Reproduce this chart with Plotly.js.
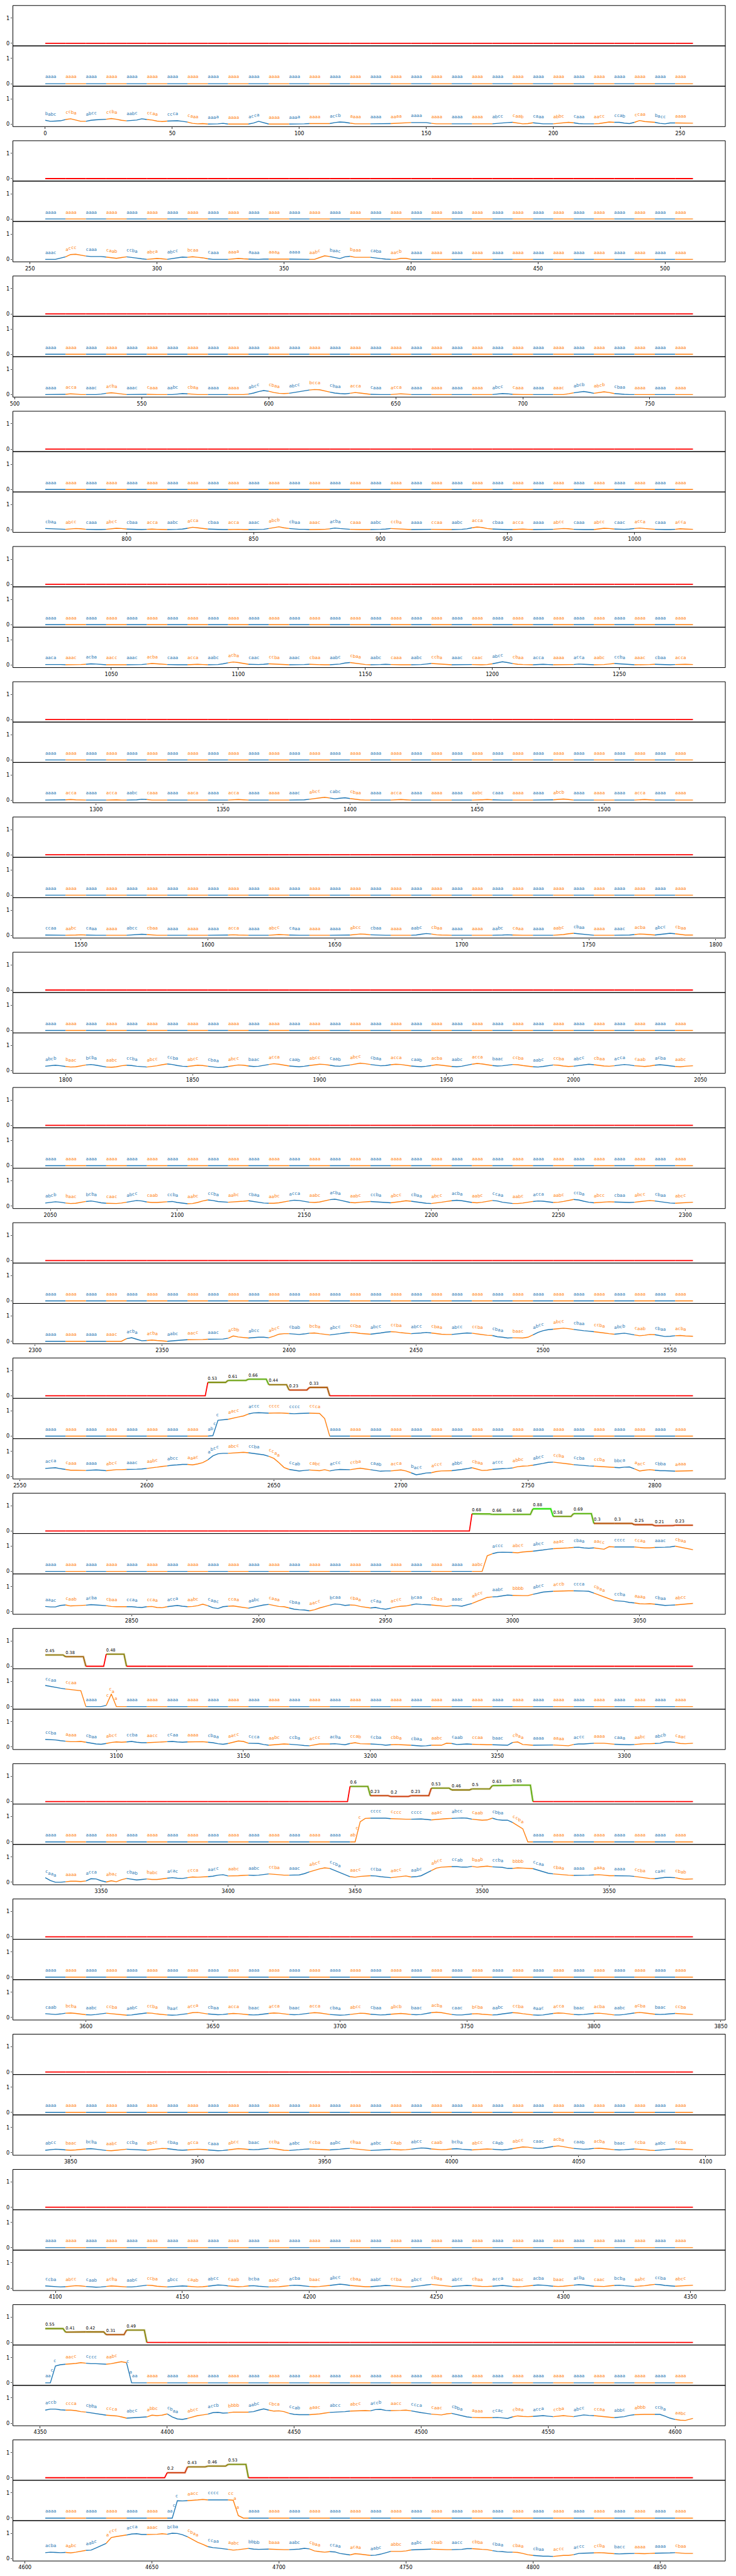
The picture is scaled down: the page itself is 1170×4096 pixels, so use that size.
<!DOCTYPE html>
<html><head><meta charset="utf-8">
<script src="https://cdn.plot.ly/plotly-3.0.1.min.js"></script>
<style>body{margin:0;background:#fff}#chart{width:1170px;height:4096px}</style>
</head><body><div id="chart"></div>
<script>
// ---------------- DATA ----------------
// score per 8-point window (top row); sparse: first window index and values
const scoreFirst = [-1,-1,-1,-1,-1,-1,-1,-1,-1,-1,8,21,0,15,-1,-1,-1,0,6];
const scoreList = [[],[],[],[],[],[],[],[],[],[],
  [0.53,0.61,0.66,0.44,0.23,0.33],
  [0.68,0.66,0.66,0.88,0.58,0.69,0.3,0.3,0.25,0.21,0.23],
  [0.45,0.38,0,0.48],
  [0.6,0.23,0.2,0.23,0.53,0.46,0.5,0.63,0.65],
  [],[],[],
  [0.55,0.41,0.42,0.31,0.49],
  [0.2,0.43,0.46,0.53]];
// middle signal (every 2 samples), zero outside the listed stretch
const midStartIdx = [-1,-1,-1,-1,-1,-1,-1,-1,-1,-1,33,87,0,62,-1,-1,-1,0,26];
const midActive = [[],[],[],[],[],[],[],[],[],[],
  [0.02,0.63,0.65,0.67,0.72,0.76,0.8,0.88,0.92,0.93,0.92,0.91,0.92,0.92,0.91,0.9,0.89,0.9,0.91,0.91,0.91,0.9,0.7],
  [0.62,0.7,0.75,0.76,0.76,0.75,0.74,0.77,0.79,0.8,0.82,0.85,0.88,0.9,0.91,0.91,0.93,0.95,0.96,0.93,0.92,0.93,0.91,0.88,0.98,0.97,0.97,0.97,0.97,0.97,0.95,0.93,0.93,0.95,0.95,0.96,0.97,1.0,0.96,0.91,0.86],
  [0.84,0.8,0.76,0.73,0.7,0.68,0.66,0.63,0,0,0,0,0.05,0.5],
  [0.8,0.93,0.94,0.94,0.95,0.94,0.92,0.91,0.9,0.9,0.9,0.91,0.91,0.89,0.87,0.89,0.91,0.92,0.93,0.94,0.95,0.94,0.9,0.88,0.86,0.87,0.94,0.88,0.86,0.86,0.77,0.64,0.52],
  [],[],[],
  [0,0,0.67,0.72,0.74,0.75,0.77,0.8,0.78,0.76,0.76,0.75,0.74,0.76,0.8,0.84,0.8],
  [0.69,0.68,0.69,0.7,0.72,0.74,0.72,0.72,0.72,0.72,0.72,0.71,0.1]];
// middle-row words: "aaaa" except a stretch starting at window midWordFirst
const midWordFirst = [-1,-1,-1,-1,-1,-1,-1,-1,-1,-1,8,21,0,15,-1,-1,-1,0,6];
const midWordList = ["","","","","","","","","","",
  "abcc aacc accc cccc cccc ccca",
  "aabc accc abcc abcc aaac cbaa aacc cccc ccaa aaac cbaa",
  "ccaa ccaa aaaa ccaa",
  "abcc cccc cccc cccc aaac abcc caab cbba ccba",
  "","","",
  "aacc aacc cccc aabc caaa",
  "aacc aacc cccc ccaa"];
// bottom signal (every 2 samples, 128 per panel)
const botSig = [
 [0.15,0.11,0.12,0.13,0.18,0.21,0.16,0.11,0.11,0.15,0.17,0.18,0.19,0.22,0.19,0.15,
  0.13,0.15,0.16,0.21,0.18,0.16,0.12,0.10,0.12,0.13,0.13,0.11,0.08,0.03,0.01,0.02,
  0,0,0.01,0.03,0,0,0,0,0,0.04,0.11,0.05,0,0,0,0,
  0,0,0.01,0.01,0.02,0.02,0.02,0.01,0.02,0.06,0.08,0.07,0.04,0.01,0.01,0.01,
  0.01,0.01,0.01,0.02,0.02,0.03,0.04,0.05,0.06,0.06,0.06,0.06,0.03,0.01,0.01,0.01,
  0.01,0.01,0.01,0.01,0.01,0.01,0.01,0.01,0.01,0.03,0.05,0.06,0.07,0.04,0.01,0.02,
  0.05,0.03,0.01,0.01,0.01,0.03,0.05,0.07,0.05,0.02,0.01,0.01,0.01,0.02,0.05,0.08,
  0.07,0.07,0.04,0.02,0.07,0.14,0.1,0.08,0.07,0.03,0.01,0.045,0.045,0.045,0.04,0.035],
 [0,0,0,0.05,0.1,0.19,0.2,0.16,0.13,0.11,0.11,0.11,0.09,0.06,0.04,0.07,
  0.1,0.08,0.05,0.02,0,0.02,0.035,0.02,0,0.03,0.07,0.09,0.08,0.1,0.08,0.06,
  0.02,0,0,0,0,0.02,0.035,0.02,0.01,0,0,0.01,0.01,0.01,0,0,
  0.01,0.01,0.01,0,0,0,0.07,0.14,0.11,0.07,0.03,0.1,0.12,0.08,0.08,0.08,
  0.08,0.05,0.03,0.01,0,0,0.04,0.04,0,0,0,0,0,0,0,0,
  0,0,0,0,0,0,0,0,0,0,0,0,0,0,0,0,
  0,0,0,0,0,0,0,0,0,0,0,0,0,0,0,0,
  0,0,0,0,0,0,0,0,0,0,0,0,0,0,0,0],
 [0,0,0,0,0.01,0.03,0.02,0,0,0,0,0.02,0.05,0.07,0.05,0.02,
  0,0,0,0.01,0.01,0,0,0,0,0,0.02,0.04,0.03,0.01,0,0,
  0,0,0,0,0,0,0,0,0.02,0.06,0.12,0.16,0.13,0.08,0.05,0.04,
  0.05,0.08,0.12,0.15,0.18,0.2,0.19,0.15,0.1,0.06,0.04,0.03,0.05,0.08,0.06,0.03,
  0.01,0,0,0,0,0.02,0.03,0.02,0,0,0,0,0,0,0,0,
  0,0,0,0,0,0,0,0,0,0.02,0.04,0.03,0.01,0,0,0,
  0,0,0,0,0,0,0,0.03,0.07,0.1,0.12,0.09,0.05,0.08,0.11,0.08,
  0.04,0.02,0.01,0,0,0,0,0,0,0,0,0,0,0,0,0],
 [0.05,0.04,0.03,0.02,0.02,0.03,0.05,0.04,0.02,0.01,0.01,0.01,0.02,0.04,0.06,0.05,
  0.03,0.02,0.01,0.01,0.02,0.03,0.02,0.01,0.01,0.01,0.02,0.03,0.06,0.1,0.08,0.05,
  0.03,0.02,0.01,0.01,0.01,0.02,0.02,0.01,0.01,0.01,0.01,0.02,0.05,0.09,0.12,0.08,
  0.05,0.03,0.02,0.02,0.01,0.01,0.01,0.02,0.04,0.07,0.05,0.03,0.02,0.01,0.01,0.01,
  0.01,0.01,0.02,0.03,0.05,0.04,0.02,0.01,0.01,0.01,0.01,0.01,0.02,0.02,0.01,0.01,
  0.01,0.01,0.02,0.04,0.08,0.11,0.09,0.05,0.03,0.02,0.01,0.01,0.01,0.02,0.03,0.02,
  0.01,0.01,0.01,0.01,0.02,0.03,0.05,0.04,0.02,0.01,0.01,0.01,0.01,0.03,0.06,0.05,
  0.03,0.02,0.02,0.03,0.05,0.07,0.05,0.03,0.02,0.01,0.01,0.01,0.02,0.04,0.03,0.02],
 [0.02,0.02,0.03,0.02,0.01,0.01,0.01,0.02,0.03,0.05,0.04,0.02,0.01,0.01,0.02,0.02,
  0.01,0.01,0.01,0.02,0.04,0.06,0.05,0.03,0.02,0.01,0.01,0.01,0.01,0.02,0.03,0.02,
  0.01,0.01,0.02,0.05,0.09,0.12,0.1,0.06,0.03,0.02,0.02,0.03,0.05,0.04,0.02,0.01,
  0.01,0.01,0.01,0.02,0.03,0.02,0.01,0.01,0.01,0.02,0.04,0.08,0.1,0.07,0.04,0.02,
  0.01,0.01,0.02,0.03,0.02,0.01,0.01,0.01,0.01,0.01,0.02,0.04,0.06,0.05,0.03,0.02,
  0.01,0.01,0.01,0.02,0.02,0.01,0.01,0.02,0.05,0.09,0.13,0.1,0.06,0.03,0.02,0.01,
  0.01,0.02,0.03,0.02,0.01,0.01,0.01,0.01,0.02,0.04,0.03,0.02,0.01,0.01,0.02,0.04,
  0.06,0.05,0.03,0.02,0.01,0.01,0.01,0.02,0.03,0.02,0.01,0.01,0.02,0.03,0.03,0.02],
 [0.01,0.01,0.01,0.01,0.02,0.03,0.02,0.01,0.01,0.01,0.01,0.01,0.01,0.02,0.02,0.01,
  0.01,0.01,0.02,0.04,0.03,0.01,0.01,0.01,0.01,0.01,0.01,0.01,0.01,0.01,0.02,0.01,
  0.01,0.01,0.01,0.01,0.01,0.02,0.03,0.02,0.01,0.01,0.01,0.01,0.01,0.01,0.01,0.01,
  0.01,0.01,0.01,0.02,0.04,0.07,0.1,0.12,0.09,0.06,0.08,0.1,0.07,0.04,0.02,0.01,
  0.01,0.01,0.01,0.01,0.01,0.02,0.03,0.02,0.01,0.01,0.01,0.01,0.01,0.01,0.01,0.01,
  0.01,0.01,0.01,0.01,0.01,0.01,0.02,0.03,0.02,0.01,0.01,0.01,0.01,0.01,0.01,0.01,
  0.01,0.01,0.01,0.01,0.02,0.04,0.05,0.03,0.01,0.01,0.01,0.01,0.01,0.01,0.01,0.01,
  0.01,0.01,0.01,0.01,0.01,0.02,0.03,0.02,0.01,0.01,0.01,0.01,0.01,0.01,0.01,0.01],
 [0.02,0.02,0.01,0.01,0.01,0.01,0.02,0.03,0.02,0.01,0.01,0.01,0.01,0.01,0.01,0.01,
  0.01,0.02,0.03,0.05,0.04,0.02,0.01,0.01,0.01,0.01,0.01,0.01,0.01,0.01,0.01,0.01,
  0.01,0.01,0.01,0.01,0.02,0.03,0.02,0.01,0.01,0.01,0.01,0.01,0.01,0.02,0.04,0.03,
  0.02,0.01,0.01,0.01,0.01,0.01,0.01,0.01,0.01,0.01,0.01,0.01,0.02,0.04,0.06,0.05,
  0.03,0.02,0.01,0.01,0.01,0.01,0.01,0.01,0.01,0.02,0.05,0.08,0.06,0.03,0.02,0.01,
  0.01,0.01,0.01,0.01,0.01,0.01,0.01,0.01,0.01,0.01,0.02,0.03,0.02,0.01,0.01,0.01,
  0.01,0.01,0.01,0.01,0.01,0.02,0.04,0.07,0.09,0.07,0.04,0.02,0.01,0.01,0.01,0.01,
  0.01,0.01,0.01,0.02,0.04,0.06,0.05,0.03,0.02,0.04,0.07,0.09,0.07,0.04,0.02,0.02],
 [0.18,0.2,0.22,0.2,0.17,0.15,0.16,0.19,0.23,0.25,0.22,0.18,0.15,0.14,0.16,0.2,
  0.22,0.21,0.18,0.16,0.15,0.17,0.2,0.24,0.27,0.25,0.21,0.18,0.17,0.19,0.22,0.21,
  0.18,0.15,0.13,0.14,0.17,0.2,0.23,0.22,0.19,0.17,0.18,0.21,0.25,0.28,0.26,0.22,
  0.19,0.17,0.16,0.18,0.21,0.24,0.26,0.25,0.22,0.19,0.18,0.2,0.23,0.27,0.3,0.28,
  0.25,0.22,0.2,0.21,0.24,0.26,0.25,0.22,0.19,0.17,0.16,0.18,0.21,0.24,0.22,0.19,
  0.17,0.16,0.18,0.22,0.26,0.29,0.27,0.24,0.21,0.19,0.2,0.23,0.25,0.24,0.21,0.18,
  0.16,0.15,0.17,0.2,0.23,0.22,0.19,0.17,0.18,0.21,0.24,0.26,0.24,0.21,0.19,0.18,
  0.2,0.23,0.25,0.23,0.2,0.18,0.17,0.19,0.22,0.24,0.22,0.19,0.17,0.16,0.18,0.2],
 [0.12,0.14,0.17,0.15,0.12,0.1,0.11,0.14,0.18,0.2,0.17,0.13,0.11,0.1,0.1,0.12,
  0.15,0.19,0.22,0.2,0.16,0.14,0.14,0.15,0.17,0.18,0.14,0.11,0.09,0.1,0.14,0.2,
  0.24,0.22,0.18,0.16,0.15,0.16,0.17,0.19,0.21,0.18,0.14,0.12,0.11,0.11,0.13,0.16,
  0.2,0.23,0.22,0.18,0.15,0.14,0.16,0.2,0.25,0.27,0.23,0.18,0.14,0.13,0.15,0.17,
  0.18,0.17,0.15,0.14,0.13,0.15,0.18,0.21,0.19,0.16,0.13,0.11,0.1,0.12,0.15,0.18,
  0.21,0.23,0.21,0.17,0.14,0.13,0.15,0.19,0.22,0.2,0.15,0.12,0.1,0.1,0.12,0.15,
  0.18,0.2,0.19,0.16,0.14,0.15,0.18,0.22,0.26,0.24,0.19,0.15,0.13,0.14,0.16,0.17,
  0.16,0.15,0.14,0.14,0.15,0.17,0.2,0.22,0.2,0.17,0.14,0.12,0.11,0.12,0.14,0.15],
 [0,0,0,0,0,0,0,0,0,0,0,0,0,0,0,0,
  0.1,0.14,0.08,0.02,0.03,0.05,0.03,0.01,0,0.02,0.03,0.05,0.06,0.06,0.07,0.07,
  0.08,0.08,0.08,0.09,0.12,0.21,0.17,0.15,0.13,0.15,0.16,0.16,0.14,0.2,0.28,0.3,
  0.3,0.28,0.27,0.29,0.32,0.33,0.3,0.27,0.25,0.27,0.3,0.33,0.35,0.34,0.31,0.29,
  0.28,0.3,0.33,0.36,0.38,0.37,0.34,0.32,0.3,0.31,0.33,0.35,0.33,0.3,0.28,0.27,
  0.27,0.29,0.31,0.33,0.32,0.29,0.26,0.24,0.23,0.18,0.16,0.13,0.14,0.13,0.13,0.16,
  0.25,0.35,0.42,0.46,0.48,0.5,0.52,0.5,0.47,0.44,0.42,0.4,0.38,0.36,0.33,0.3,
  0.28,0.3,0.32,0.29,0.25,0.22,0.24,0.27,0.26,0.22,0.19,0.2,0.22,0.23,0.21,0.2],
 [0.32,0.34,0.35,0.31,0.28,0.25,0.25,0.24,0.24,0.25,0.26,0.25,0.23,0.25,0.27,0.27,
  0.28,0.28,0.29,0.3,0.32,0.34,0.37,0.4,0.42,0.45,0.46,0.48,0.48,0.46,0.5,0.55,
  0.66,0.82,0.9,0.92,0.92,0.93,0.94,0.96,0.94,0.91,0.89,0.86,0.8,0.72,0.55,0.36,
  0.28,0.25,0.22,0.24,0.26,0.24,0.23,0.27,0.22,0.26,0.28,0.28,0.27,0.3,0.33,0.3,
  0.27,0.24,0.21,0.22,0.22,0.24,0.26,0.22,0.15,0.07,0.1,0.14,0.15,0.2,0.22,0.22,
  0.23,0.25,0.28,0.31,0.35,0.3,0.24,0.25,0.28,0.3,0.31,0.32,0.34,0.39,0.41,0.42,
  0.45,0.48,0.52,0.56,0.57,0.55,0.53,0.5,0.47,0.45,0.44,0.42,0.41,0.4,0.38,0.37,
  0.36,0.35,0.37,0.38,0.3,0.22,0.25,0.27,0.25,0.23,0.23,0.22,0.21,0.22,0.23,0.23],
 [0.21,0.19,0.19,0.25,0.27,0.23,0.24,0.25,0.26,0.28,0.27,0.25,0.24,0.21,0.2,0.2,
  0.2,0.2,0.18,0.17,0.2,0.21,0.17,0.16,0.2,0.23,0.25,0.22,0.2,0.21,0.24,0.3,
  0.24,0.16,0.13,0.2,0.22,0.23,0.2,0.17,0.14,0.18,0.22,0.27,0.29,0.25,0.21,0.2,
  0.15,0.1,0.08,0.07,0.04,0.08,0.15,0.21,0.26,0.31,0.29,0.25,0.27,0.26,0.21,0.18,
  0.15,0.17,0.13,0.1,0.14,0.19,0.22,0.23,0.27,0.31,0.29,0.28,0.27,0.25,0.22,0.21,
  0.24,0.24,0.22,0.27,0.33,0.41,0.5,0.57,0.59,0.6,0.63,0.66,0.65,0.64,0.64,0.64,
  0.69,0.73,0.78,0.8,0.81,0.82,0.83,0.83,0.83,0.83,0.82,0.81,0.74,0.66,0.58,0.51,
  0.44,0.42,0.41,0.37,0.35,0.32,0.31,0.32,0.3,0.27,0.25,0.26,0.27,0.29,0.31,0.33],
 [0.3,0.29,0.28,0.25,0.23,0.21,0.21,0.22,0.19,0.15,0.12,0.11,0.14,0.18,0.2,0.19,
  0.2,0.22,0.19,0.17,0.17,0.18,0.19,0.2,0.21,0.22,0.2,0.19,0.2,0.2,0.21,0.21,
  0.19,0.17,0.13,0.11,0.14,0.19,0.24,0.22,0.15,0.14,0.14,0.1,0.07,0.09,0.11,0.12,
  0.11,0.1,0.08,0.06,0.05,0.09,0.12,0.12,0.12,0.13,0.11,0.09,0.14,0.17,0.13,0.12,
  0.12,0.11,0.1,0.07,0.09,0.1,0.09,0.08,0.07,0.05,0.04,0.05,0.07,0.07,0.07,0.15,
  0.14,0.1,0.11,0.12,0.11,0.1,0.1,0.09,0.09,0.08,0.08,0.07,0.18,0.2,0.1,0.08,
  0.07,0.07,0.08,0.08,0.08,0.07,0.06,0.05,0.1,0.12,0.12,0.14,0.15,0.15,0.15,0.13,
  0.11,0.1,0.09,0.09,0.1,0.12,0.13,0.13,0.14,0.15,0.2,0.2,0.18,0.14,0.13,0.15],
 [0.18,0.07,0,0,0.02,0.04,0.04,0.03,0.05,0.14,0.13,0.06,0.01,0.06,0.02,0.1,
  0.15,0.12,0.09,0.11,0.13,0.11,0.11,0.14,0.16,0.18,0.16,0.15,0.18,0.21,0.2,0.21,
  0.22,0.24,0.28,0.3,0.25,0.25,0.26,0.27,0.28,0.27,0.28,0.31,0.33,0.32,0.3,0.28,
  0.28,0.29,0.29,0.34,0.41,0.47,0.53,0.57,0.55,0.47,0.38,0.3,0.22,0.2,0.23,0.25,
  0.26,0.25,0.22,0.2,0.18,0.2,0.23,0.25,0.21,0.22,0.26,0.36,0.46,0.56,0.6,0.61,
  0.62,0.62,0.6,0.6,0.63,0.6,0.62,0.64,0.61,0.6,0.59,0.55,0.55,0.57,0.56,0.55,
  0.54,0.48,0.41,0.36,0.33,0.31,0.29,0.28,0.27,0.27,0.27,0.28,0.29,0.3,0.28,0.26,
  0.26,0.26,0.25,0.25,0.23,0.2,0.17,0.15,0.14,0.16,0.19,0.19,0.18,0.14,0.12,0.13],
 [0.15,0.13,0.12,0.14,0.17,0.18,0.16,0.13,0.11,0.1,0.12,0.15,0.17,0.15,0.12,0.1,
  0.09,0.1,0.13,0.16,0.18,0.17,0.14,0.12,0.1,0.09,0.1,0.12,0.15,0.19,0.2,0.17,
  0.14,0.12,0.11,0.12,0.14,0.16,0.15,0.13,0.11,0.1,0.11,0.13,0.16,0.18,0.17,0.14,
  0.12,0.11,0.12,0.14,0.17,0.19,0.18,0.15,0.12,0.1,0.09,0.1,0.12,0.15,0.17,0.16,
  0.13,0.11,0.1,0.11,0.13,0.15,0.16,0.14,0.12,0.11,0.12,0.15,0.19,0.21,0.19,0.15,
  0.12,0.1,0.1,0.12,0.14,0.15,0.13,0.11,0.1,0.11,0.14,0.17,0.19,0.18,0.15,0.12,
  0.1,0.09,0.1,0.13,0.16,0.18,0.17,0.14,0.12,0.11,0.12,0.14,0.16,0.17,0.15,0.12,
  0.1,0.1,0.12,0.15,0.18,0.2,0.18,0.15,0.13,0.12,0.13,0.15,0.16,0.15,0.13,0.12],
 [0.1,0.12,0.14,0.13,0.11,0.1,0.11,0.13,0.15,0.16,0.14,0.11,0.09,0.08,0.1,0.12,
  0.14,0.13,0.11,0.1,0.1,0.12,0.15,0.17,0.16,0.13,0.11,0.1,0.11,0.13,0.14,0.13,
  0.11,0.09,0.08,0.09,0.11,0.14,0.16,0.15,0.13,0.12,0.13,0.15,0.17,0.16,0.13,0.1,
  0.09,0.1,0.12,0.14,0.15,0.14,0.12,0.11,0.11,0.12,0.14,0.16,0.17,0.15,0.12,0.1,
  0.09,0.1,0.12,0.13,0.13,0.12,0.11,0.12,0.14,0.17,0.19,0.18,0.15,0.13,0.12,0.13,
  0.15,0.16,0.14,0.12,0.11,0.12,0.14,0.15,0.14,0.12,0.11,0.13,0.16,0.2,0.23,0.22,
  0.19,0.17,0.18,0.21,0.25,0.27,0.24,0.2,0.17,0.15,0.14,0.15,0.17,0.18,0.16,0.14,
  0.12,0.11,0.12,0.14,0.15,0.14,0.12,0.1,0.09,0.1,0.12,0.14,0.15,0.14,0.13,0.12],
 [0.08,0.07,0.05,0.04,0.05,0.07,0.09,0.08,0.06,0.04,0.03,0.04,0.06,0.08,0.07,0.05,
  0.04,0.04,0.06,0.09,0.11,0.1,0.07,0.05,0.04,0.05,0.07,0.08,0.07,0.05,0.04,0.05,
  0.07,0.1,0.12,0.11,0.08,0.06,0.05,0.06,0.08,0.09,0.07,0.05,0.04,0.04,0.05,0.07,
  0.09,0.11,0.1,0.08,0.06,0.05,0.06,0.08,0.1,0.13,0.15,0.13,0.1,0.08,0.06,0.05,
  0.05,0.06,0.08,0.1,0.09,0.07,0.05,0.04,0.04,0.06,0.09,0.12,0.14,0.12,0.09,0.07,
  0.06,0.07,0.09,0.1,0.09,0.07,0.06,0.06,0.07,0.09,0.1,0.08,0.06,0.05,0.06,0.08,
  0.1,0.12,0.11,0.09,0.07,0.06,0.07,0.09,0.11,0.13,0.12,0.09,0.07,0.06,0.06,0.08,
  0.1,0.11,0.09,0.07,0.06,0.07,0.09,0.12,0.14,0.13,0.1,0.08,0.07,0.08,0.1,0.11],
 [0.52,0.56,0.56,0.53,0.52,0.52,0.5,0.46,0.44,0.41,0.38,0.35,0.32,0.3,0.29,0.25,
  0.2,0.21,0.23,0.23,0.25,0.32,0.3,0.32,0.37,0.25,0.17,0.15,0.19,0.24,0.3,0.33,
  0.36,0.42,0.43,0.4,0.41,0.44,0.44,0.44,0.44,0.46,0.52,0.57,0.52,0.48,0.49,0.46,
  0.39,0.35,0.34,0.34,0.34,0.35,0.37,0.4,0.43,0.44,0.44,0.46,0.48,0.49,0.5,0.5,
  0.49,0.54,0.55,0.51,0.5,0.5,0.51,0.52,0.49,0.45,0.42,0.39,0.36,0.34,0.33,0.37,
  0.39,0.34,0.29,0.25,0.23,0.22,0.22,0.22,0.22,0.23,0.21,0.19,0.25,0.29,0.27,0.26,
  0.27,0.28,0.3,0.28,0.26,0.28,0.3,0.28,0.26,0.3,0.33,0.31,0.3,0.28,0.26,0.24,
  0.22,0.24,0.26,0.31,0.34,0.35,0.35,0.35,0.35,0.35,0.28,0.2,0.15,0.12,0.11,0.19],
 [0.23,0.25,0.24,0.23,0.24,0.22,0.25,0.29,0.32,0.33,0.42,0.51,0.6,0.83,0.87,0.9,
  0.93,0.97,0.98,0.95,0.95,0.95,0.96,0.98,0.96,1.0,0.99,0.94,0.86,0.74,0.64,0.56,
  0.47,0.43,0.41,0.38,0.36,0.33,0.35,0.38,0.4,0.37,0.36,0.37,0.37,0.36,0.35,0.35,
  0.35,0.36,0.37,0.4,0.38,0.3,0.27,0.25,0.27,0.26,0.2,0.17,0.14,0.19,0.17,0.14,
  0.12,0.13,0.17,0.22,0.28,0.28,0.28,0.3,0.34,0.35,0.36,0.36,0.37,0.36,0.35,0.35,
  0.35,0.35,0.36,0.39,0.39,0.37,0.36,0.35,0.31,0.28,0.27,0.25,0.25,0.24,0.2,0.15,
  0.12,0.1,0.09,0.09,0.08,0.1,0.12,0.12,0.15,0.2,0.21,0.22,0.22,0.23,0.22,0.2,
  0.19,0.18,0.19,0.2,0.2,0.19,0.19,0.2,0.21,0.21,0.21,0.22,0.23,0.21,0.2,0.2]
];
const botWords = [
 "babc ccba abcc ccba aabc ccaa ccca caaa aaaa aaaa acca aaaa aaaa aaaa accb aaaa aaaa aaaa aaaa aaaa aaaa aaaa abcc caab caaa abbc caaa aacc ccab ccaa bacc aaaa",
 "aaac accc caaa caab ccba abca abcc bcaa caaa aaaa aaaa aaaa aaaa aabc baac baaa caba aacb aaaa aaaa aaaa aaaa aaaa aaaa aaaa aaaa aaaa aaaa aaaa aaaa aaaa aaaa",
 "aaaa acca aaac acba aaac caaa aabc cbaa aaaa aaaa abcc cbaa abcc bcca cbaa acca caaa acca aaaa aaaa aaaa aaaa abcc caaa aaaa aaac abcb abcb cbaa aaaa aaaa aaaa",
 "cbaa abcc caaa abcc cbaa acca aabc acca cbaa acca aaac abcb cbaa aaac acba caaa aabc ccba aaaa ccaa aabc acca cbaa acca aaaa abcc caaa abcc caac acca caaa acca",
 "aaca aaac acba aacc aaac acba caaa acca aabc acba caac ccba aaac cbaa aabc cbaa aabc caaa aabc ccba aaac caac abcc cbaa acca aaaa acca aabc ccba aaac cbaa acca",
 "aaaa acca aaaa acca aabc caaa aaaa aaca aaaa acca aaaa aaaa aaac abcc cabc cbaa aaaa acca aaaa aaaa aaaa aabc caaa aaaa aaaa abcb aaaa aaaa aaaa acca aaaa aaaa",
 "ccaa aabc caaa aaaa abcc cbaa aaaa aaaa aaaa acca aaaa abcc caaa aaaa aaaa abcc cbaa aaaa aabc cbaa aaaa aaaa aabc caaa aaaa aabc cbaa aaaa aaac acba abcc cbaa",
 "abcb baac bcba aabc ccba abcc ccba abcc cbaa abcc baac acca caab abcc caab abcc cbaa acca caab acba aabc acca baac ccba aabc ccba abcc cbaa acca caab acba aabc",
 "abcb baac bcba caac abcc caab ccba aabc ccba aabc cbaa aabc acca aabc acba aabc ccba abcc cbaa abcc acba aabc ccaa aabc acca aabc ccba abcc cbaa abcc cbaa abcc",
 "aaaa aaaa aaaa aaac acba acba aabc aacc aaac acbb abcc abcc cbab bcba abcc ccba abcc ccba abcc cbaa abcc ccba cbaa baac abcc abcc cbaa ccba abcb caab cbaa acba",
 "acca caaa aaaa abcc aaac aabc abcc aaac abcc abcc ccba ccaa ccab cabc accc ccba caab acca bacc accc abbc cbaa accc abbc abcc ccba ccba ccba bbca aacc cbba aaaa",
 "aaac caab acba cbaa ccaa ccaa acca aabc caac ccaa aabc caaa cbaa aacc bcaa cbaa ccaa accc bcaa cbaa aaac abcc aabc bbbb abcc accb ccca cbaa ccba aaaa cbaa abcc",
 "ccba aaaa cbaa abcc ccba aacc ccaa aaaa cbaa aacc ccca aabc ccba accc acba ccab ccba cbba cbaa aabc caab ccaa baac cbaa aaaa aaaa accc aaaa caaa aabc abcb caac",
 "caaa aaaa acca abac cbab babc acac ccca aacc aabc aabc ccba aaac abcc ccba aacc ccba aacc aabc abcc ccab baab ccba bbbb ccaa cbaa aaaa aaaa aaaa ccba caac cbab",
 "caab bcba aabc ccba aabc ccba baac acca cbaa acca baac acca baac acca cbaa abcc cbaa abcb baac acba caac bcba aabc ccba aaac acca baac acba aabc acba baac ccba",
 "abcc baac bcba aabc ccba abcc cbaa acca caaa abcc baac ccba aabc ccba aabc cbaa aabc caab abcc caab bcba abcc caab abcc caac acba caab acba baac ccba aabc ccba",
 "ccba abcc caab acba aabc ccba abcc caab abcc caab bcba aabc acba baac abcc cbaa aabc ccba abcc cbaa abcc cbaa acca baac acba baac acba caac bcba aabc ccba abcc",
 "accb ccca cbba ccca abcc abbc cbaa abcc accb bbbb aabc cbca ccab aaac abcc abcc accb aacc ccca caac cbba aaaa ccac cbaa acca ccba abcc ccaa abbc abbb ccba aabc",
 "acba aabc aabc accc acca aaac bcba cbaa ccaa aabc bbbb baaa aabc cbaa ccaa acaa aabc abbc aabc cbab aacc cbba cbaa cbaa cbaa accc accc ccba bacc aaaa aaaa cbaa"
];

// ---------------- BUILD ----------------
const NP = 19, PLEN = 256, NW = 32, NS = 128;
const S = 0.585, WPX = 1170, HPX = 4096;
const BLUE = '#1f77b4', ORANGE = '#ff7f0e';
const FONT = 'DejaVu Sans';
const xsLocal = []; for (let k = 0; k < NS; k++) xsLocal.push(k < NS - 1 ? 2 * k : 255);
const L = 35 * S / WPX, R = 1971 * S / WPX;
function dom(p, r) {
  const top = (15 + 367.6 * p + 109.7 * r) * S, bot = top + 109.7 * S;
  return [1 - bot / HPX, 1 - top / HPX];
}
function sfx(i) { return i === 0 ? '' : String(i + 1); }
function interp(sig, x) {
  for (let k = 0; k < NS - 1; k++) {
    if (x <= xsLocal[k + 1]) { const t = (x - xsLocal[k]) / (xsLocal[k + 1] - xsLocal[k]); return sig[k] + t * (sig[k + 1] - sig[k]); }
  }
  return sig[NS - 1];
}
function scoreColor(v) { return 'rgb(' + Math.round((1 - v) * 255) + ',' + Math.round(v * 255) + ',0)'; }

const traces = [], shapes = [], layout = {
  width: WPX, height: HPX, margin: {l: 0, r: 0, t: 0, b: 0}, showlegend: false,
  paper_bgcolor: '#fff', plot_bgcolor: 'rgba(0,0,0,0)', font: {family: FONT, color: '#000'}
};

function sigLines(sig, p, xa, ya) {
  const s = p * PLEN, bx = [], by = [], ox = [], oy = [];
  for (let w = 0; w < NW; w++) {
    const X = w % 2 ? ox : bx, Y = w % 2 ? oy : by;
    for (let k = 4 * w; k <= Math.min(4 * w + 4, NS - 1); k++) { X.push(s + xsLocal[k]); Y.push(sig[k]); }
    X.push(null); Y.push(null);
  }
  [[bx, by, BLUE], [ox, oy, ORANGE]].forEach(function (d) {
    traces.push({type: 'scatter', mode: 'lines', x: d[0], y: d[1], xaxis: xa, yaxis: ya,
      line: {color: d[2], width: 1.4}, hoverinfo: 'skip'});
  });
}
function sigLetters(sig, words, p, xa, ya) {
  const s = p * PLEN, b = {x: [], y: [], t: []}, o = {x: [], y: [], t: []};
  for (let w = 0; w < NW; w++) {
    const word = words[w], D = w % 2 ? o : b;
    for (let k = 0; k < 4; k++) {
      const lx = 8 * w + k * 1.08 + 0.54;
      D.x.push(s + lx); D.y.push(interp(sig, lx) + 0.26); D.t.push(word[k]);
    }
  }
  [[b, BLUE], [o, ORANGE]].forEach(function (d) {
    traces.push({type: 'scatter', mode: 'text', x: d[0].x, y: d[0].y, text: d[0].t, xaxis: xa, yaxis: ya,
      textposition: 'middle center', textfont: {family: FONT, size: 7.2, color: d[1]}, cliponaxis: false, hoverinfo: 'skip'});
  });
}

for (let p = 0; p < NP; p++) {
  const s = p * PLEN;
  const xa = 'x' + sfx(p);
  const yTop = 'y' + sfx(3 * p), yMid = 'y' + sfx(3 * p + 1), yBot = 'y' + sfx(3 * p + 2);
  layout['xaxis' + sfx(p)] = {domain: [L, R], anchor: yBot, range: [s - 12.75, s + 267.75],
    tick0: 0, dtick: 50, ticks: 'outside', ticklen: 2.5, tickwidth: 0.8, tickcolor: '#000',
    tickfont: {family: FONT, size: 8.2, color: '#000'}, showgrid: false, zeroline: false, showline: false};
  for (let r = 0; r < 3; r++) {
    const d = dom(p, r);
    layout['yaxis' + sfx(3 * p + r)] = {domain: d, anchor: xa, range: [-0.1, 1.5],
      tickvals: [0, 1], ticktext: ['0', '1'], ticks: 'outside', ticklen: 2.5, tickwidth: 0.8, tickcolor: '#000',
      tickfont: {family: FONT, size: 8.2, color: '#000'}, showgrid: false, zeroline: false, showline: false};
    shapes.push({type: 'rect', xref: 'paper', yref: 'paper', x0: L, x1: R, y0: d[0], y1: d[1],
      line: {color: '#000', width: 1}, fillcolor: 'rgba(0,0,0,0)', layer: 'above'});
  }
  // ---- top row: window scores
  const sc = [];
  for (let w = 0; w < NW; w++) {
    const j = w - scoreFirst[p];
    sc.push(scoreFirst[p] >= 0 && j >= 0 && j < scoreList[p].length ? scoreList[p][j] : 0);
  }
  const rx = [], ry = [], lab = {x: [], y: [], t: []};
  for (let w = 0; w < NW; w++) {
    const v = sc[w], X = [s + 8 * w, s + 8 * w + 7], Y = [v, v];
    if (w < NW - 1) { X.push(s + 8 * w + 8); Y.push(sc[w + 1]); }
    if (v === 0) { rx.push.apply(rx, X); ry.push.apply(ry, Y); rx.push(null); ry.push(null); }
    else {
      const c = scoreColor(v);
      traces.push({type: 'scatter', mode: 'lines', x: X, y: Y, xaxis: xa, yaxis: yTop,
        line: {color: c, width: 3.6}, opacity: 0.3, hoverinfo: 'skip'});
      traces.push({type: 'scatter', mode: 'lines', x: X, y: Y, xaxis: xa, yaxis: yTop,
        line: {color: c, width: 1.6}, hoverinfo: 'skip'});
      lab.x.push(s + 8 * w); lab.y.push(v + 0.15); lab.t.push(String(Math.round(v * 100) / 100));
    }
  }
  traces.push({type: 'scatter', mode: 'lines', x: rx, y: ry, xaxis: xa, yaxis: yTop,
    line: {color: '#ff0000', width: 1.8}, hoverinfo: 'skip'});
  if (lab.x.length) traces.push({type: 'scatter', mode: 'text', x: lab.x, y: lab.y, text: lab.t, xaxis: xa, yaxis: yTop,
    textposition: 'middle right', textfont: {family: FONT, size: 6.6, color: '#000'}, cliponaxis: false, hoverinfo: 'skip'});
  // ---- middle row
  const mid = [];
  for (let k = 0; k < NS; k++) {
    const j = k - midStartIdx[p];
    mid.push(midStartIdx[p] >= 0 && j >= 0 && j < midActive[p].length ? midActive[p][j] : 0);
  }
  const mw = [];
  const mlist = midWordList[p] ? midWordList[p].split(' ') : [];
  for (let w = 0; w < NW; w++) {
    const j = w - midWordFirst[p];
    mw.push(midWordFirst[p] >= 0 && j >= 0 && j < mlist.length ? mlist[j] : 'aaaa');
  }
  sigLines(mid, p, xa, yMid);
  sigLetters(mid, mw, p, xa, yMid);
  // ---- bottom row
  sigLines(botSig[p], p, xa, yBot);
  sigLetters(botSig[p], botWords[p].split(' '), p, xa, yBot);
}
layout.shapes = shapes;
Plotly.newPlot('chart', traces, layout, {staticPlot: true, displayModeBar: false});
</script></body></html>
